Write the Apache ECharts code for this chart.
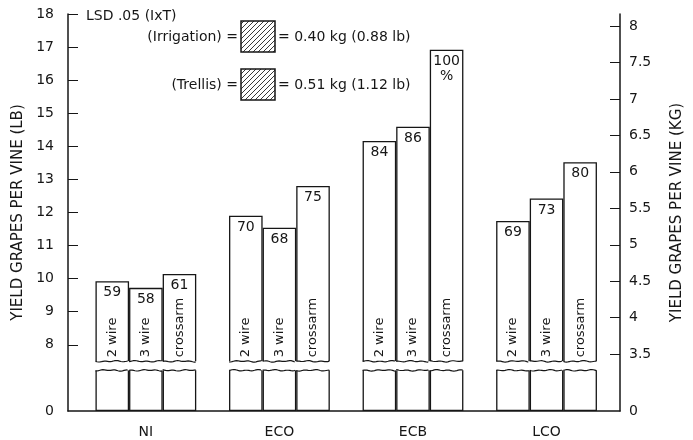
<!DOCTYPE html>
<html><head><meta charset="utf-8">
<script src="https://cdn.jsdelivr.net/npm/echarts@6/dist/echarts.min.js"></script>
<style>html,body{margin:0;padding:0;background:#fff}#c{width:693px;height:440px}</style>
</head><body><div id="c"></div>
<script>
// ---- data ----
const categories = ['NI', 'ECO', 'ECB', 'LCO'];
const trellisNames = ['2 wire', '3 wire', 'crossarm'];
const twoWireLb = [9.92, 11.90, 14.16, 11.74];
const threeWireLb = [9.72, 11.54, 14.59, 12.42];
const crossarmLb = [10.14, 12.80, 16.92, 13.52];
const twoWirePct = [59, 70, 84, 69];
const threeWirePct = [58, 68, 86, 73];
const crossarmPct = [61, 75, 100, 80];
const lbTicks = [0, 8, 9, 10, 11, 12, 13, 14, 15, 16, 17, 18];
const kgTicks = [0, 3.5, 4, 4.5, 5, 5.5, 6, 6.5, 7, 7.5, 8];
const lsdTitle = 'LSD .05 (IxT)';
const lsdLabels = ['(Irrigation) =', '(Trellis) ='];
const lsdValues = ['= 0.40 kg (0.88 lb)', '= 0.51 kg (1.12 lb)'];
const KG_PER_LB = 0.45359237;
const LB_MAX = 18, BREAK_START = 1.23, BREAK_END = 7.5;

// ---- style ----
const FONT = 'DejaVu Sans';
const INK = '#161616';
const BAR_W = 33.6;
const GAP = '2.27%';

const chart = echarts.init(document.getElementById('c'), null, {renderer: 'canvas'});

function barSeries(name, vals, pcts) {
  return {
    type: 'bar', name,
    data: vals.map((v, i) => ({value: [i, v], pct: pcts[i]})),
    barWidth: BAR_W, barGap: '0%',
    itemStyle: {color: '#fff', borderColor: INK, borderWidth: 1.3},
    label: {
      show: true, position: 'insideTop', distance: 4,
      formatter: p => p.data.pct === 100 ? '100\n%' : String(p.data.pct),
      color: INK, fontSize: 14, fontFamily: FONT, lineHeight: 15
    },
    silent: true
  };
}

const overlayData = [];
categories.forEach((c, i) => trellisNames.forEach((t, j) => overlayData.push([i, BREAK_END, j])));

// hatch pattern
const pc = document.createElement('canvas');
pc.width = 5; pc.height = 5;
const pctx = pc.getContext('2d');
pctx.strokeStyle = '#222'; pctx.lineWidth = 0.9;
pctx.beginPath();
pctx.moveTo(-1, 6); pctx.lineTo(6, -1);
pctx.moveTo(-1, 1); pctx.lineTo(1, -1);
pctx.moveTo(4, 6); pctx.lineTo(6, 4);
pctx.stroke();
const hatch = {image: pc, repeat: 'repeat'};

const txt = (text, x, y, align) => ({
  type: 'text', x, y,
  style: {text, fill: INK, font: '14px ' + FONT, align: align || 'left', verticalAlign: 'middle'}
});

const axisLineStyle = {show: true, onZero: false, breakLine: false, lineStyle: {color: INK, width: 1.5}};

const option = {
  animation: false,
  backgroundColor: '#fff',
  textStyle: {fontFamily: FONT, color: INK},
  grid: {left: 68, right: 70, top: 14, bottom: 29},
  xAxis: {
    type: 'value', min: -0.583, max: 3.55,
    splitLine: {show: false},
    axisLine: {show: true, onZero: false, lineStyle: {color: INK, width: 1.5}},
    axisTick: {show: false},
    axisLabel: {
      customValues: [0, 1, 2, 3], formatter: v => categories[v] || '',
      fontSize: 14, color: INK, margin: 14, fontFamily: FONT
    }
  },
  yAxis: [
    {
      type: 'value', position: 'left', min: 0, max: LB_MAX,
      breaks: [{start: BREAK_START, end: BREAK_END, gap: GAP}],
      breakArea: {show: false},
      name: 'YIELD GRAPES PER VINE (LB)', nameLocation: 'middle', nameGap: 34,
      nameTextStyle: {fontSize: 15, color: INK, fontFamily: FONT},
      splitLine: {show: false},
      axisLine: axisLineStyle,
      axisTick: {show: true, inside: true, length: 10, customValues: lbTicks.slice(1), lineStyle: {color: INK, width: 1}},
      axisLabel: {customValues: lbTicks, fontSize: 14, color: INK, margin: 14, fontFamily: FONT}
    },
    {
      type: 'value', position: 'right', min: 0, max: LB_MAX * KG_PER_LB,
      breaks: [{start: BREAK_START * KG_PER_LB, end: BREAK_END * KG_PER_LB, gap: GAP}],
      breakArea: {show: false},
      name: 'YIELD GRAPES PER VINE (KG)', nameLocation: 'middle', nameGap: 50,
      nameTextStyle: {fontSize: 15, color: INK, fontFamily: FONT},
      splitLine: {show: false},
      axisLine: axisLineStyle,
      axisTick: {show: true, inside: true, length: 10, customValues: kgTicks.slice(1), lineStyle: {color: INK, width: 1}},
      axisLabel: {customValues: kgTicks, fontSize: 14, color: INK, margin: 9, fontFamily: FONT}
    }
  ],
  series: [
    barSeries(trellisNames[0], twoWireLb, twoWirePct),
    barSeries(trellisNames[1], threeWireLb, threeWirePct),
    barSeries(trellisNames[2], crossarmLb, crossarmPct),
    {
      type: 'custom', z: 10, silent: true,
      encode: {x: 0, y: 1},
      data: overlayData,
      renderItem(params, api) {
        const i = api.value(0), j = api.value(2);
        const up = api.coord([i, BREAK_END]);
        const low = api.coord([i, BREAK_START]);
        const cx = up[0] + (j - 1) * BAR_W;
        const x0 = cx - BAR_W / 2, x1 = cx + BAR_W / 2;
        const wave = (y, ph) => {
          const pts = [];
          for (let x = x0; x <= x1 + 0.01; x += 1.5) {
            const t = x - x0;
            pts.push([x, y + Math.sin(t / 1.9 + ph) * 0.45 + Math.sin(t / 4.3 + ph * 2) * 0.35]);
          }
          return pts;
        };
        const ls = {stroke: INK, lineWidth: 1.2, fill: null};
        return {
          type: 'group', children: [
            {type: 'rect', shape: {x: x0 - 1.5, y: up[1], width: BAR_W + 3, height: low[1] - up[1]}, style: {fill: '#fff'}},
            {type: 'polyline', shape: {points: wave(up[1], j * 1.7 + i)}, style: ls},
            {type: 'polyline', shape: {points: wave(low[1], j * 2.3 + 1 + i)}, style: ls},
            {type: 'text', x: cx, y: up[1] - 4, rotation: Math.PI / 2,
              style: {text: trellisNames[j], fill: INK, font: '13px ' + FONT, align: 'left', verticalAlign: 'middle'}}
          ]
        };
      }
    }
  ],
  graphic: [
    txt(lsdTitle, 86, 16),
    txt(lsdLabels[0], 238, 37, 'right'),
    {type: 'rect', shape: {x: 241, y: 21, width: 34, height: 31}, style: {fill: hatch, stroke: INK, lineWidth: 1.5}},
    txt(lsdValues[0], 278, 37),
    txt(lsdLabels[1], 238, 85, 'right'),
    {type: 'rect', shape: {x: 241, y: 69, width: 34, height: 31}, style: {fill: hatch, stroke: INK, lineWidth: 1.5}},
    txt(lsdValues[1], 278, 85)
  ]
};
chart.setOption(option);
</script>
</body></html>
